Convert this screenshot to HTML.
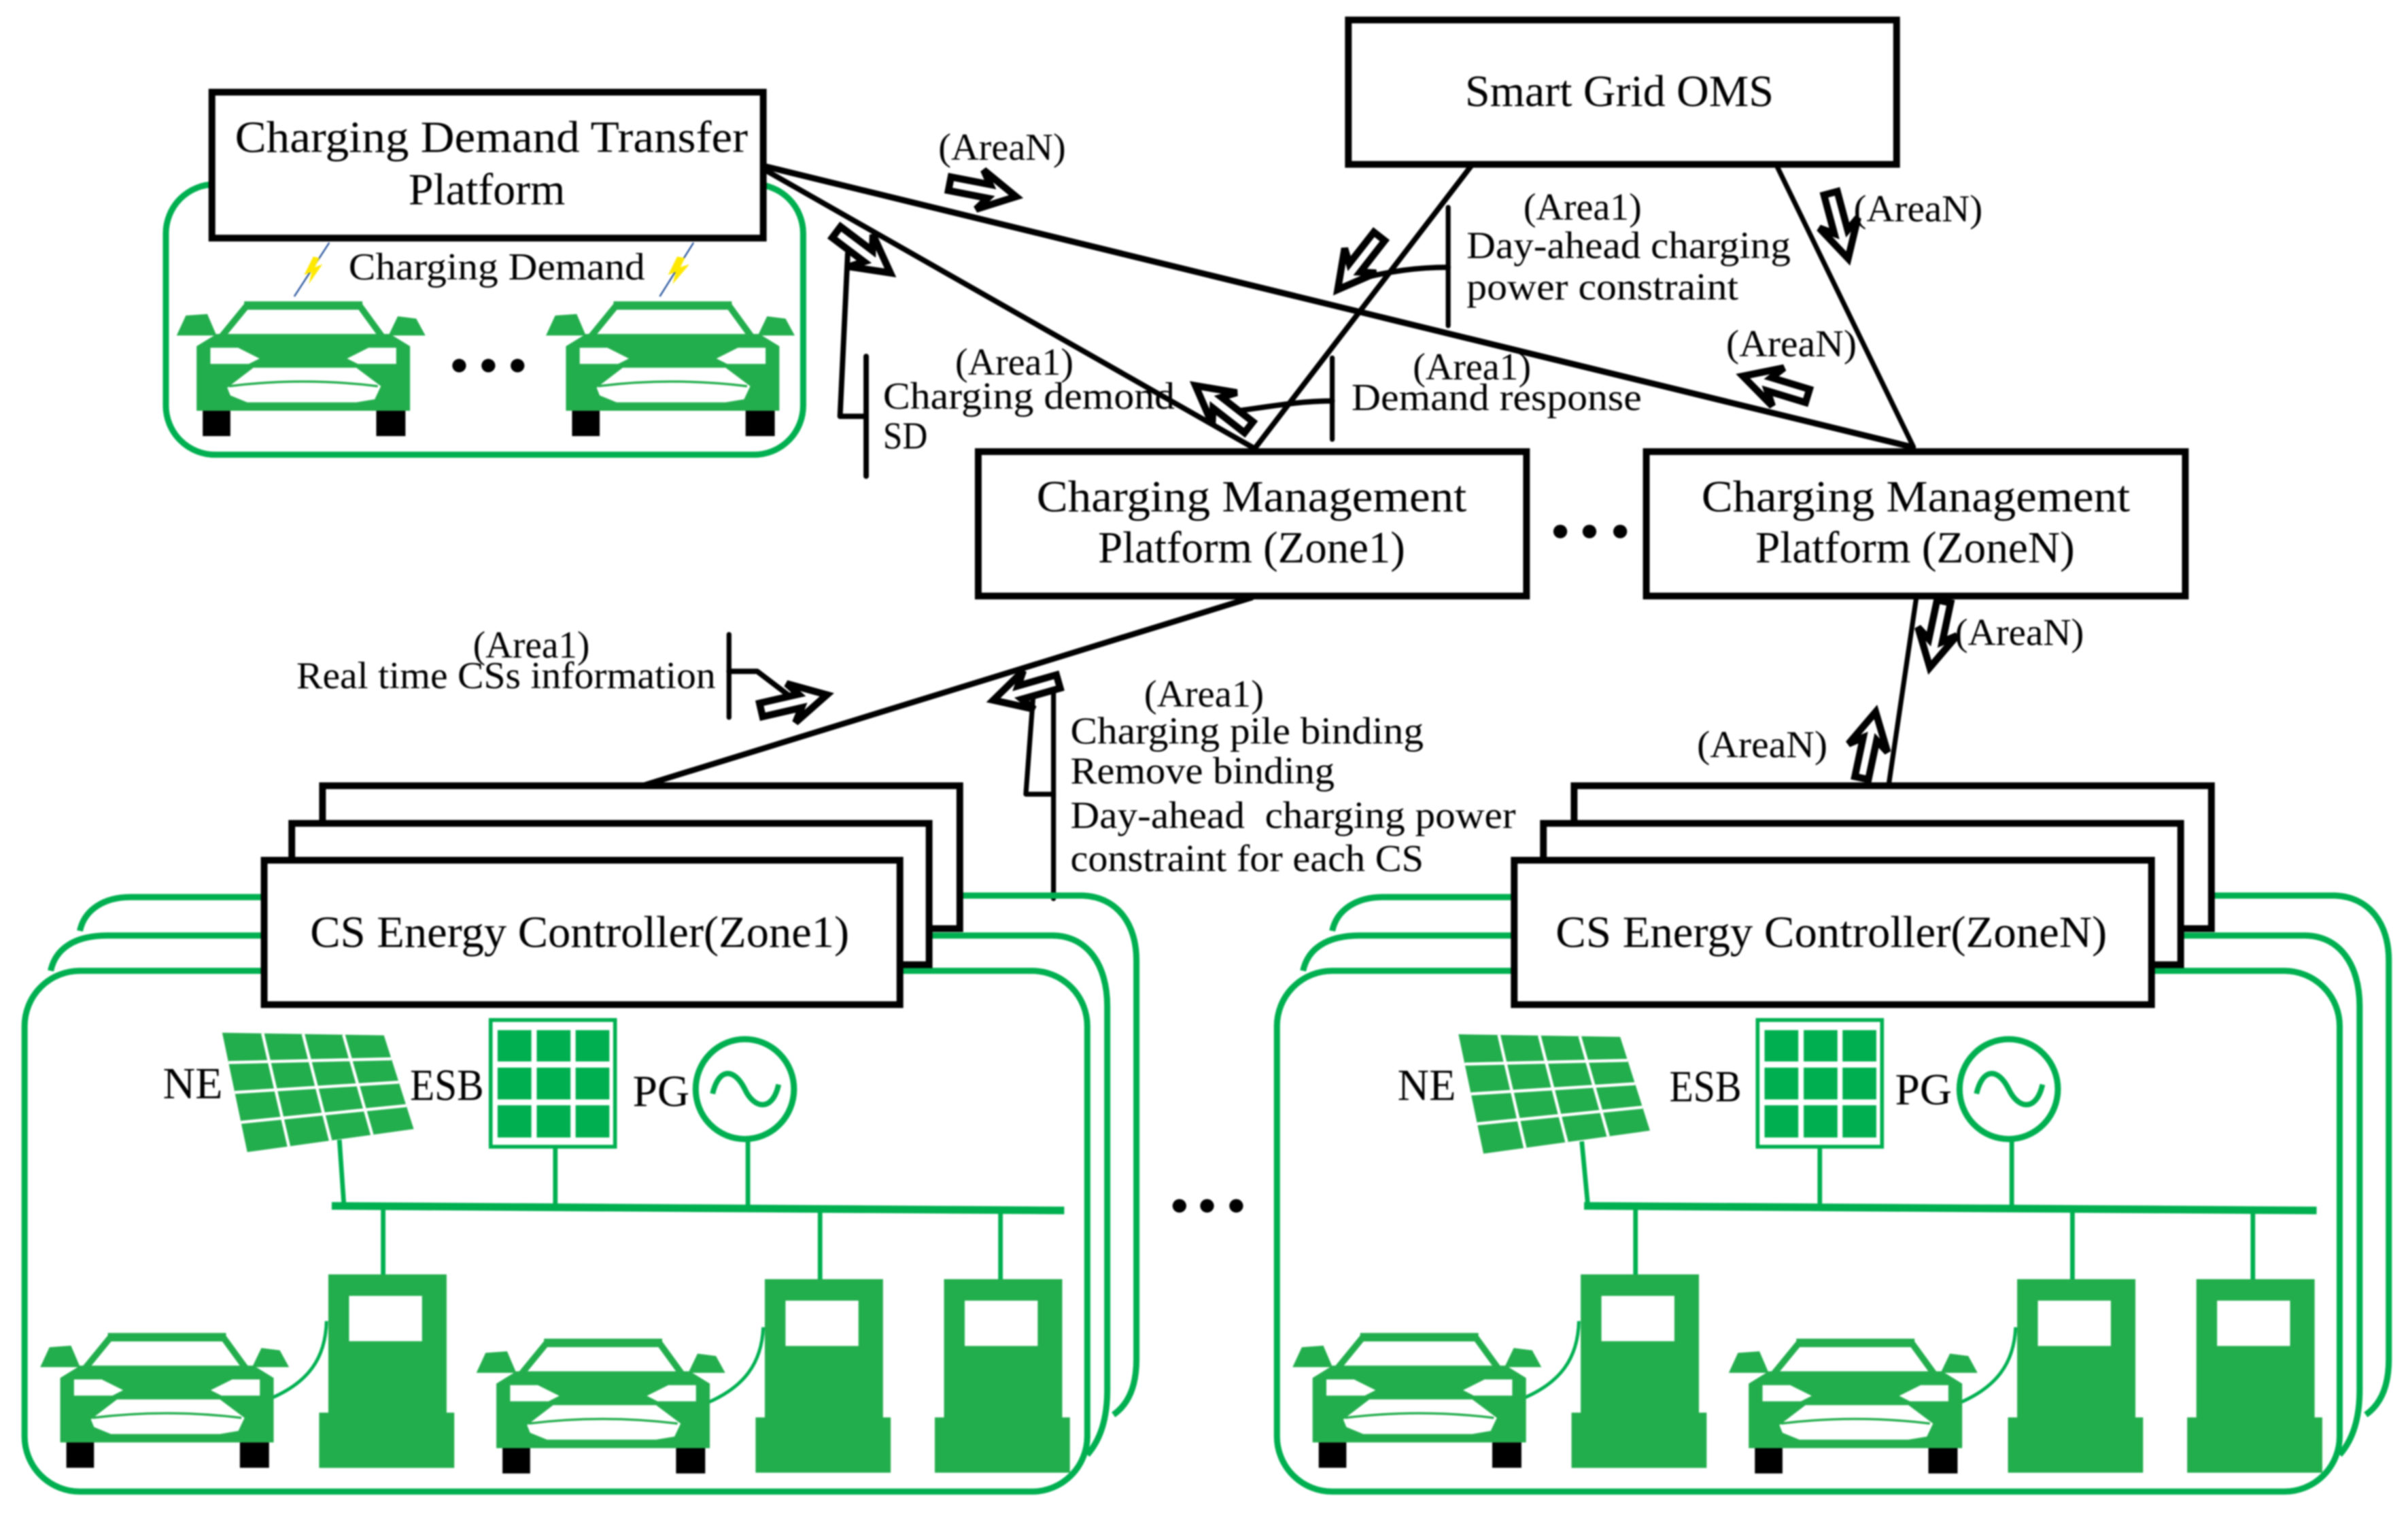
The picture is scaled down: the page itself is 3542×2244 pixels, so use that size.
<!DOCTYPE html>
<html lang="en"><head><meta charset="utf-8"><title>Charging management diagram</title>
<style>
html,body{margin:0;padding:0;background:#fff}
svg{display:block;filter:blur(1px)}
text{font-family:"Liberation Serif",serif;fill:#000;font-size:25px}
.b{font-size:29px}
.k{fill:none;stroke:#000;stroke-linecap:round;stroke-linejoin:round}
.g{fill:none;stroke:#00b050;stroke-width:4}
.box{fill:#fff;stroke:#000;stroke-width:4.4;stroke-linejoin:miter}
</style></head><body>
<svg width="3542" height="2244" viewBox="0 0 1568 993.4">
<defs>
<g id="car">
<polygon fill="#fff" points="46,0 119,0 133,22 29,22"/>
<path d="M44 2.500H121" stroke="#23ae4d" stroke-width="5.500" fill="none"/>
<path d="M47 1L29 23M118 1L134 23" stroke="#23ae4d" stroke-width="4.200" fill="none"/>
<polygon fill="#23ae4d" points="0,22 6,9 20,8 26,22"/>
<polygon fill="#23ae4d" points="138,22 144,9.500 156,11 162,22"/>
<polygon fill="#23ae4d" points="26,21 139,21 152,29 152,71 13,71 13,29"/>
<rect x="17" y="71" width="18" height="16.5" fill="#000"/>
<rect x="130" y="71" width="19" height="16.5" fill="#000"/>
<polygon fill="#fff" points="22,30 40,30 54,37 47,40.500 22,40.500"/>
<polygon fill="#fff" points="143,30 125,30 111,37 118,40.500 143,40.500"/>
<polygon fill="#fff" points="50,43 117,43 133,55 129,63.500 117,65.500 46,65.500 35,61 33,56"/>
<path d="M34 55Q82 49 131 55" stroke="#23ae4d" stroke-width="1.5" fill="none"/>
</g>
<g id="pile">
<rect x="6" y="0" width="77" height="92" fill="#23ae4d"/>
<rect x="0" y="90" width="88" height="36" fill="#23ae4d"/>
<rect x="19.5" y="14" width="47.5" height="29.5" fill="#fff"/>
</g>
<polygon id="ar" points="-23,-4.500 3,-4.500 -3,-13 21,0 -3,13 3,4.500 -23,4.500" fill="#fff" stroke="#000" stroke-width="4.600" stroke-linejoin="miter"/>
<g id="solar">
<polygon fill="#23ae4d" points="144.7,672.3 250,674 269.4,735 161,750"/>
<g stroke="#fff" stroke-width="2">
<line x1="148.8" y1="691.7" x2="254.85" y2="689.25"/>
<line x1="152.85" y1="711.15" x2="259.7" y2="704.5"/>
<line x1="156.9" y1="730.6" x2="264.55" y2="719.75"/>
<line x1="171" y1="672.7" x2="188.1" y2="746.25"/>
<line x1="197.35" y1="673.15" x2="215.2" y2="742.5"/>
<line x1="223.7" y1="673.6" x2="242.3" y2="738.75"/>
</g>
</g>
<g id="batt">
<rect x="319.5" y="664" width="81" height="82.5" fill="#fff" stroke="#00b050" stroke-width="2.5"/>
<g fill="#00b050">
<rect x="324" y="670.6" width="22" height="20.4"/><rect x="349.5" y="670.6" width="22" height="20.4"/><rect x="374.8" y="670.6" width="22" height="20.4"/>
<rect x="324" y="695" width="22" height="20.7"/><rect x="349.5" y="695" width="22" height="20.7"/><rect x="374.8" y="695" width="22" height="20.7"/>
<rect x="324" y="719.5" width="22" height="21"/><rect x="349.5" y="719.5" width="22" height="21"/><rect x="374.8" y="719.5" width="22" height="21"/>
</g>
</g>
<g id="pg">
<ellipse cx="485" cy="709" rx="32" ry="32.5" fill="#fff" stroke="#00b050" stroke-width="4"/>
<path d="M464 712C468 695 478 695 485 709C491 722 503 724 507 706" fill="none" stroke="#00b050" stroke-width="3.500"/>
</g>
<g id="site">
<rect class="g" x="16" y="632" width="692" height="339" rx="36" ry="36"/>
<path class="g" d="M33 632C36 618 48 609 70 609H172M605 609H685C708 609 721 628 721 655V905C721 925 716 938 708 947"/>
<path class="g" d="M52 606C55 592 68 584 85 584H172M625 583H705C728 584 740 602 740 625V885C740 902 735 914 725 921"/>
<path d="M216 785L693 788" stroke="#00b050" stroke-width="5" fill="none"/>
<g stroke="#00b050" stroke-width="3" fill="none">
<path d="M249.5 786V830M534 787V833M651.5 787V833"/>
<path d="M177 910C200 900 212 885 212.6 860M461 913C484 903 496 888 497 864" stroke-width="2.200"/>
</g>
<use href="#car" x="26.2" y="868"/>
<use href="#car" x="310.2" y="871.7"/>
<use href="#pile" x="207.8" y="829.6"/>
<use href="#pile" x="492" y="832.7"/>
<use href="#pile" x="608.7" y="832.7"/>
</g>
</defs>

<!-- top green area -->
<rect class="g" x="108" y="120" width="415" height="176" rx="32" ry="32"/>
<use href="#car" x="115" y="196.4"/>
<use href="#car" x="355.500" y="196.4"/>
<g fill="#000"><ellipse cx="299" cy="238" rx="4.5" ry="4.4"/><ellipse cx="318" cy="238" rx="4.5" ry="4.4"/><ellipse cx="337" cy="238" rx="4.5" ry="4.4"/>
<ellipse cx="1016" cy="346" rx="4.5" ry="4.4"/><ellipse cx="1035" cy="346" rx="4.5" ry="4.4"/><ellipse cx="1055" cy="346" rx="4.5" ry="4.4"/>
<ellipse cx="768" cy="785" rx="4.5" ry="4.4"/><ellipse cx="786" cy="785" rx="4.5" ry="4.4"/><ellipse cx="805" cy="785" rx="4.5" ry="4.4"/></g>
<g stroke="#1f4e9a" stroke-width="1" fill="none"><line x1="214.4" y1="158" x2="191.6" y2="193"/><line x1="451.6" y1="158" x2="429.6" y2="193"/></g>
<polygon fill="#ffe800" points="204,167 198,179 203,177 201,185 210,172 205,174 208,168"/>
<polygon fill="#ffe800" points="441,167 435,179 440,177 438,185 449,172 443,174 446,168"/>

<!-- black connectors -->
<g class="k">
<path d="M497 108L1245 291" stroke-width="4"/>
<path d="M497 110L817 292" stroke-width="3.5"/>
<path d="M958 108L817 292" stroke-width="3.5"/>
<path d="M1157 108L1246 291" stroke-width="3.2"/>
<path d="M815 389L420 511" stroke-width="3.8"/>
<path d="M1248 388L1230 510" stroke-width="3.2"/>
<path d="M564 232V310" stroke-width="3.5"/>
<path d="M564 271H547L552 165" stroke-width="3.5"/>
<path d="M943 135V212" stroke-width="3.2"/>
<path d="M943 174C925 174 905 176 880 183" stroke-width="3.5"/>
<path d="M867.5 233V286" stroke-width="3.2"/>
<path d="M867.5 261C845 261 825 265 795 269" stroke-width="3.5"/>
<path d="M474.7 413V467" stroke-width="3.2"/>
<path d="M474.7 437H493L518 456" stroke-width="3.5"/>
<path d="M686 450V585" stroke-width="3.2"/>
<path d="M686 517H668L673 450" stroke-width="3.2"/>
</g>

<!-- arrows -->
<use href="#ar" transform="translate(641,124) rotate(11)"/>
<use href="#ar" transform="translate(563,165) rotate(37)"/>
<use href="#ar" transform="translate(884,172) rotate(128)"/>
<use href="#ar" transform="translate(1198,148) rotate(75)"/>
<use href="#ar" transform="translate(1155,251) rotate(197)"/>
<use href="#ar" transform="translate(795,264) rotate(218)"/>
<use href="#ar" transform="translate(518,457) rotate(-13)"/>
<use href="#ar" transform="translate(667,450) rotate(164)"/>
<use href="#ar" transform="translate(1261,414) rotate(102)"/>
<use href="#ar" transform="translate(1217,484) rotate(-78)"/>

<!-- CS sites -->
<use href="#site"/>
<use href="#site" transform="translate(815.5,0)"/>
<g stroke="#00b050" stroke-width="3" fill="none">
<path d="M221 742L224 785M361.6 747V785M487 742V786"/>
<path d="M1030 743L1034 785M1185 747V786M1310 742V787"/>
</g>
<use href="#solar"/>
<use href="#batt"/>
<use href="#pg"/>
<use href="#solar" transform="translate(805,1)"/>
<use href="#batt" transform="translate(825,0)"/>
<use href="#pg" transform="translate(823,0)"/>

<!-- boxes -->
<rect class="box" x="878" y="13" width="357" height="94"/>
<rect class="box" x="138" y="60" width="359" height="95"/>
<rect class="box" x="637" y="294" width="357" height="94"/>
<rect class="box" x="1072" y="294" width="351" height="94"/>
<rect class="box" x="210" y="511.500" width="415" height="93"/>
<rect class="box" x="190" y="536" width="415" height="92"/>
<rect class="box" x="172" y="560" width="414" height="94"/>
<rect class="box" x="1025" y="511.500" width="415" height="93"/>
<rect class="box" x="1005" y="536" width="415" height="92"/>
<rect class="box" x="986" y="560" width="415" height="94"/>

<!-- labels -->
<text class="b" x="153" y="99" textLength="334" lengthAdjust="spacingAndGlyphs">Charging Demand Transfer</text>
<text class="b" x="266" y="133" textLength="102" lengthAdjust="spacingAndGlyphs">Platform</text>
<text x="227" y="182" textLength="193" lengthAdjust="spacingAndGlyphs">Charging Demand</text>
<text class="b" x="954" y="69" textLength="201" lengthAdjust="spacingAndGlyphs">Smart Grid OMS</text>
<text x="611" y="104" textLength="83" lengthAdjust="spacingAndGlyphs">(AreaN)</text>
<text x="992" y="143" textLength="77" lengthAdjust="spacingAndGlyphs">(Area1)</text>
<text x="955" y="168" textLength="211" lengthAdjust="spacingAndGlyphs">Day-ahead charging</text>
<text x="955" y="195" textLength="177" lengthAdjust="spacingAndGlyphs">power constraint</text>
<text x="1207" y="144" textLength="84" lengthAdjust="spacingAndGlyphs">(AreaN)</text>
<text x="1124" y="232" textLength="85" lengthAdjust="spacingAndGlyphs">(AreaN)</text>
<text x="622" y="244" textLength="77" lengthAdjust="spacingAndGlyphs">(Area1)</text>
<text x="575" y="266" textLength="190" lengthAdjust="spacingAndGlyphs">Charging demond</text>
<text x="575" y="292" textLength="29" lengthAdjust="spacingAndGlyphs">SD</text>
<text x="920" y="247" textLength="77" lengthAdjust="spacingAndGlyphs">(Area1)</text>
<text x="880" y="267" textLength="189" lengthAdjust="spacingAndGlyphs">Demand response</text>
<text class="b" x="675" y="333" textLength="280" lengthAdjust="spacingAndGlyphs">Charging Management</text>
<text class="b" x="715" y="366" textLength="200" lengthAdjust="spacingAndGlyphs">Platform (Zone1)</text>
<text class="b" x="1108" y="333" textLength="279" lengthAdjust="spacingAndGlyphs">Charging Management</text>
<text class="b" x="1143" y="366" textLength="208" lengthAdjust="spacingAndGlyphs">Platform (ZoneN)</text>
<text x="308" y="428" textLength="76" lengthAdjust="spacingAndGlyphs">(Area1)</text>
<text x="193" y="448" textLength="273" lengthAdjust="spacingAndGlyphs">Real time CSs information</text>
<text x="745" y="460" textLength="78" lengthAdjust="spacingAndGlyphs">(Area1)</text>
<text x="697" y="484" textLength="230" lengthAdjust="spacingAndGlyphs">Charging pile binding</text>
<text x="697" y="510" textLength="172" lengthAdjust="spacingAndGlyphs">Remove binding</text>
<text x="697" y="539" textLength="290" lengthAdjust="spacingAndGlyphs" xml:space="preserve">Day-ahead  charging power</text>
<text x="697" y="567" textLength="230" lengthAdjust="spacingAndGlyphs">constraint for each CS</text>
<text x="1273" y="420" textLength="84" lengthAdjust="spacingAndGlyphs">(AreaN)</text>
<text x="1105" y="493" textLength="85" lengthAdjust="spacingAndGlyphs">(AreaN)</text>
<text class="b" x="202" y="616.500" textLength="351" lengthAdjust="spacingAndGlyphs">CS Energy Controller(Zone1)</text>
<text class="b" x="1013" y="616.500" textLength="359" lengthAdjust="spacingAndGlyphs">CS Energy Controller(ZoneN)</text>
<text class="b" x="106" y="715" textLength="39" lengthAdjust="spacingAndGlyphs">NE</text>
<text class="b" x="267" y="716" textLength="48" lengthAdjust="spacingAndGlyphs">ESB</text>
<text class="b" x="412" y="720" textLength="37" lengthAdjust="spacingAndGlyphs">PG</text>
<text class="b" x="910" y="716" textLength="38" lengthAdjust="spacingAndGlyphs">NE</text>
<text class="b" x="1087" y="717" textLength="47" lengthAdjust="spacingAndGlyphs">ESB</text>
<text class="b" x="1234" y="719" textLength="37" lengthAdjust="spacingAndGlyphs">PG</text>
</svg>
</body></html>
